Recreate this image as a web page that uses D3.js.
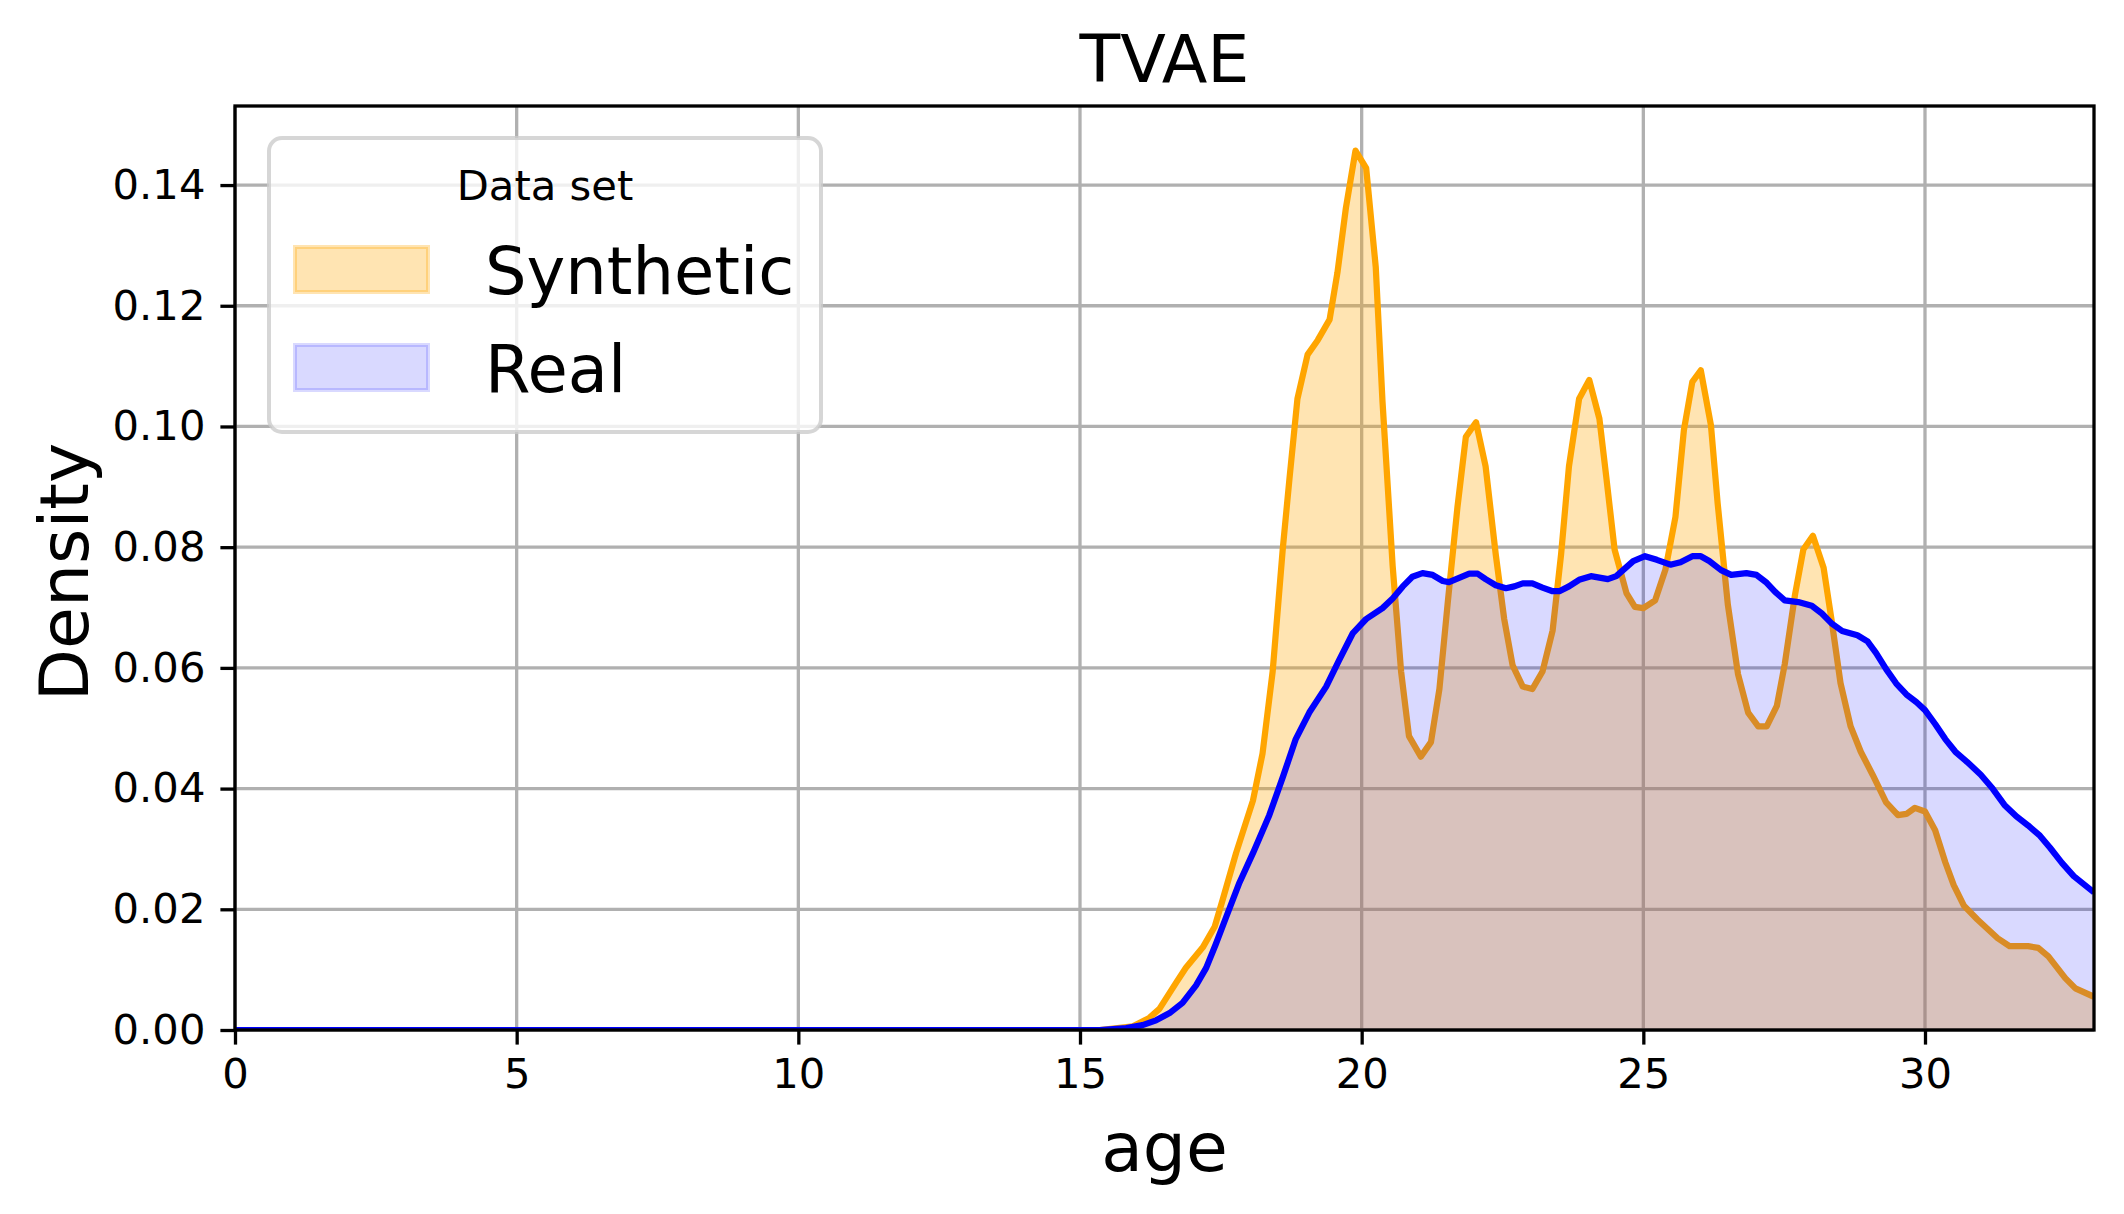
<!DOCTYPE html>
<html><head><meta charset="utf-8">
<script src="https://cdn.jsdelivr.net/npm/d3@7"></script>
<style>body{margin:0;background:#fff}svg{display:block}text{font-family:"DejaVu Sans",sans-serif}</style>
</head><body><svg id="c" width="2124" height="1214"></svg>
<script>
const title = "TVAE";
const xLabel = "age";
const yLabel = "Density";
const legendTitle = "Data set";
const seriesNames = ["Synthetic", "Real"];
const xTicks = [0, 5, 10, 15, 20, 25, 30];
const yTicks = [0, 0.02, 0.04, 0.06, 0.08, 0.10, 0.12, 0.14];

const synAge = [0,15.35,15.94,16.23,16.41,16.71,16.88,17.18,17.39,17.53,17.77,18.07,18.24,18.42,18.6,18.72,18.86,19.04,19.22,19.43,19.57,19.72,19.89,20.08,20.25,20.37,20.55,20.7,20.84,21.05,21.23,21.38,21.53,21.7,21.85,22.03,22.2,22.38,22.53,22.68,22.86,23.03,23.21,23.39,23.54,23.68,23.86,24.04,24.22,24.34,24.49,24.7,24.85,25.0,25.21,25.39,25.57,25.72,25.87,26.02,26.2,26.32,26.5,26.68,26.86,27.04,27.19,27.37,27.51,27.69,27.84,28.01,28.2,28.35,28.5,28.68,28.86,29.07,29.31,29.52,29.67,29.82,30.0,30.18,30.36,30.51,30.69,30.93,31.29,31.5,31.83,32.01,32.19,32.49,32.67,33.0];
const synDens = [0,0,0.0006,0.002,0.0035,0.0079,0.0103,0.0137,0.0171,0.0215,0.0293,0.038,0.0458,0.0594,0.0798,0.0915,0.1046,0.1119,0.1143,0.1177,0.1255,0.1362,0.1457,0.1428,0.1264,0.1041,0.0769,0.0594,0.0487,0.0453,0.0477,0.0565,0.071,0.0866,0.0983,0.1007,0.0934,0.0788,0.0681,0.0604,0.0569,0.0565,0.0594,0.0662,0.0788,0.0934,0.1046,0.1077,0.1013,0.0918,0.0796,0.0724,0.0701,0.0699,0.0712,0.0762,0.085,0.0994,0.1074,0.1093,0.1002,0.0872,0.0705,0.059,0.0526,0.0503,0.0503,0.0537,0.0606,0.072,0.0796,0.0819,0.0766,0.0674,0.0575,0.0503,0.0461,0.0423,0.0377,0.0356,0.0358,0.0368,0.0362,0.0331,0.0278,0.024,0.0206,0.0183,0.0152,0.0139,0.0139,0.0136,0.0122,0.0086,0.0069,0.0055];

const realAge = [0,15.35,15.82,16.11,16.35,16.59,16.82,17.06,17.24,17.41,17.59,17.83,18.07,18.36,18.6,18.83,19.07,19.37,19.6,19.84,20.08,20.37,20.55,20.73,20.9,21.08,21.26,21.44,21.55,21.73,21.91,22.06,22.2,22.38,22.56,22.71,22.86,23.03,23.21,23.39,23.51,23.68,23.86,24.07,24.37,24.52,24.82,25.03,25.24,25.48,25.66,25.87,26.02,26.17,26.38,26.56,26.83,27.01,27.19,27.34,27.51,27.75,27.99,28.17,28.35,28.53,28.8,28.98,29.13,29.31,29.49,29.67,29.85,30.0,30.18,30.36,30.54,30.75,30.99,31.2,31.41,31.62,31.83,32.04,32.22,32.43,32.64,33.0];
const realDens = [0,0,0.0003,0.0008,0.0016,0.0028,0.0045,0.0074,0.0103,0.0142,0.0186,0.0244,0.0293,0.0356,0.0419,0.0482,0.0526,0.0569,0.0613,0.0657,0.0681,0.0699,0.0715,0.0735,0.0751,0.0757,0.0754,0.0744,0.0742,0.0749,0.0756,0.0756,0.0747,0.0737,0.0732,0.0735,0.074,0.074,0.0733,0.0727,0.0727,0.0735,0.0746,0.0752,0.0747,0.0752,0.0777,0.0785,0.0779,0.0771,0.0775,0.0785,0.0785,0.0777,0.0762,0.0754,0.0757,0.0754,0.0741,0.0726,0.0712,0.0709,0.0703,0.069,0.0673,0.0661,0.0654,0.0644,0.0625,0.0598,0.0574,0.0556,0.0543,0.053,0.0507,0.0482,0.0461,0.0444,0.0423,0.04,0.0373,0.0354,0.0339,0.0322,0.0302,0.0277,0.0255,0.0228];

const W = 2124, H = 1214;
const L = 235, R = 2094, T = 106, B = 1030;
const svg = d3.select("#c");
const x = d3.scaleLinear().domain([0, 33]).range([L, R]);
const y = d3.scaleLinear().domain([0, 0.1531]).range([B, T]);

const defs = svg.append("defs");
defs.append("clipPath").attr("id", "clip").append("rect")
  .attr("x", L).attr("y", T).attr("width", R - L).attr("height", B - T);

// grid (below data)
const grid = svg.append("g").attr("stroke", "#b0b0b0").attr("stroke-width", 3.3);
xTicks.forEach(t => grid.append("line").attr("x1", x(t)).attr("x2", x(t)).attr("y1", T).attr("y2", B));
yTicks.forEach(t => grid.append("line").attr("x1", L).attr("x2", R).attr("y1", y(t)).attr("y2", y(t)));

const series = [
  {name: seriesNames[0], xs: synAge, ys: synDens, color: "orange", alpha: 0.3},
  {name: seriesNames[1], xs: realAge, ys: realDens, color: "blue", alpha: 0.15}
];
const plot = svg.append("g").attr("clip-path", "url(#clip)");
series.forEach(s => {
  const pts = s.xs.map((v, i) => [v, s.ys[i]]);
  const area = d3.area().x(d => x(d[0])).y0(y(0)).y1(d => y(d[1]));
  const line = d3.line().x(d => x(d[0])).y(d => y(d[1]));
  plot.append("path").attr("d", area(pts)).attr("fill", s.color).attr("fill-opacity", s.alpha);
  plot.append("path").attr("d", line(pts)).attr("fill", "none").attr("stroke", s.color)
    .attr("stroke-width", 6.25).attr("stroke-linejoin", "round").attr("stroke-linecap", "butt");
});

// spines
svg.append("rect").attr("x", L).attr("y", T).attr("width", R - L).attr("height", B - T)
  .attr("fill", "none").attr("stroke", "#000").attr("stroke-width", 3.3).attr("stroke-linecap", "square");

// axes with D3
const xAxis = d3.axisBottom(x).tickValues(xTicks).tickFormat(d3.format("d")).tickSize(14.6).tickPadding(14);
const gx = svg.append("g").attr("transform", `translate(0,${B})`).call(xAxis);
const yAxis = d3.axisLeft(y).tickValues(yTicks).tickFormat(d3.format(".2f")).tickSize(14.6).tickPadding(15);
const gy = svg.append("g").attr("transform", `translate(${L},0)`).call(yAxis);
[gx, gy].forEach(g => {
  g.select(".domain").remove();
  g.selectAll(".tick line").attr("stroke", "#000").attr("stroke-width", 3.3);
  g.selectAll(".tick text").attr("fill", "#000").attr("font-size", 41.7).attr("font-family", "DejaVu Sans");
});

// title & labels
svg.append("text").attr("x", (L + R) / 2).attr("y", 82).attr("text-anchor", "middle")
  .attr("font-size", 66.7).text(title);
svg.append("text").attr("x", (L + R) / 2).attr("y", 1171).attr("text-anchor", "middle")
  .attr("font-size", 68).text(xLabel);
svg.append("text").attr("transform", `translate(88,${(T + B) / 2 + 4}) rotate(-90)`).attr("text-anchor", "middle")
  .attr("font-size", 68).text(yLabel);

// legend
const lg = svg.append("g");
lg.append("rect").attr("x", 269).attr("y", 138).attr("width", 552).attr("height", 294).attr("rx", 13)
  .attr("fill", "#fff").attr("fill-opacity", 0.8).attr("stroke", "#cccccc").attr("stroke-opacity", 0.8).attr("stroke-width", 4);
lg.append("text").attr("x", 545).attr("y", 200).attr("text-anchor", "middle").attr("font-size", 41.7).text(legendTitle);
series.forEach((s, i) => {
  const py = 247 + i * 98;
  lg.append("rect").attr("x", 295).attr("y", py).attr("width", 133).attr("height", 45)
    .attr("fill", s.color).attr("fill-opacity", s.alpha)
    .attr("stroke", s.color).attr("stroke-opacity", s.alpha).attr("stroke-width", 4);
  lg.append("text").attr("x", 485).attr("y", py + 47).attr("font-size", 65.5).text(s.name);
});
</script></body></html>
